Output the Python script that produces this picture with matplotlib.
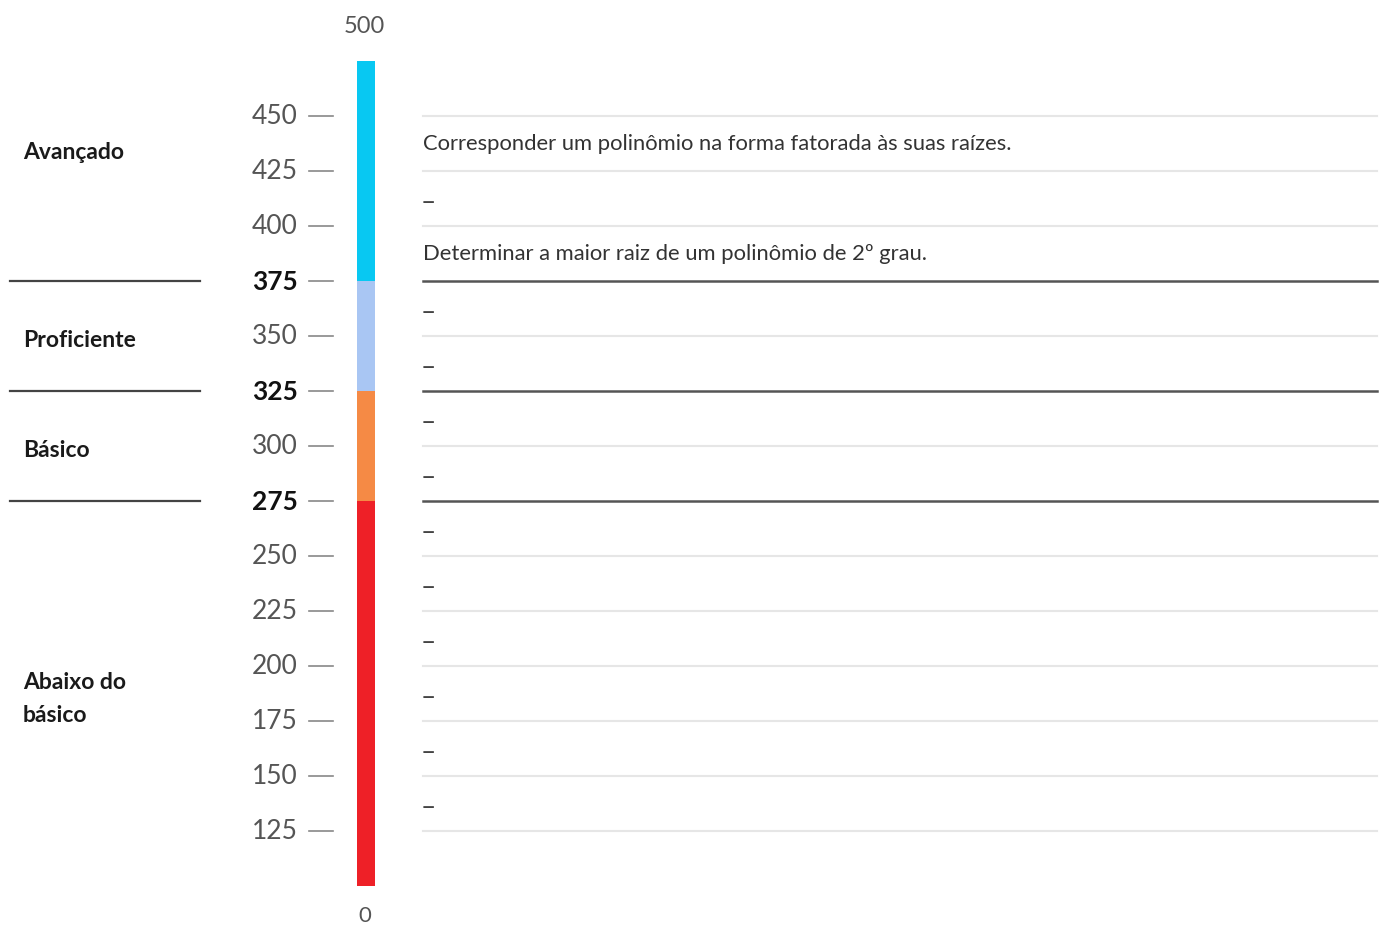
import matplotlib.pyplot as plt

# Escala de proficiência
level_names = ["Abaixo do\nbásico", "Básico", "Proficiente", "Avançado"]
level_bottoms = [100, 275, 325, 375]
level_tops = [275, 325, 375, 475]
level_colors = ["#ee2027", "#f58a45", "#a9c6f3", "#08c8f2"]
cut_points = [275, 325, 375]

tick_values = [450, 425, 400, 375, 350, 325, 300, 275, 250, 225, 200, 175, 150, 125]
scale_top_label = "500"
scale_bottom_label = "0"

# Habilidades em cada faixa de 25 pontos (do topo para baixo)
band_centers = [437.5, 412.5, 387.5, 362.5, 337.5, 312.5, 287.5,
                262.5, 237.5, 212.5, 187.5, 162.5, 137.5]
band_texts = ["Corresponder um polinômio na forma fatorada às suas raízes.",
              "–",
              "Determinar a maior raiz de um polinômio de 2º grau.",
              "–", "–", "–", "–", "–", "–", "–", "–", "–", "–"]

plt.rcParams['font.family'] = ['Lato', 'DejaVu Sans']

fig = plt.figure(figsize=(13.83, 9.29), dpi=100)
ax = fig.add_axes([0, 0, 1, 1])
ax.set_xlim(0, 1383)
ax.set_ylim(80.9, 503.17)
ax.axis('off')

# Barra colorida
for b, t, c in zip(level_bottoms, level_tops, level_colors):
    ax.bar(366, t - b, bottom=b, width=18, color=c, linewidth=0)

# Rótulos da escala e traços
for v in tick_values:
    bold = v in cut_points
    ax.text(298, v, str(v), ha='right', va='center', fontsize=19,
            color='#111111' if bold else '#555555',
            fontweight='bold' if bold else 'normal')
    ax.plot([309, 333], [v, v], color='#888888', lw=1.2)

ax.text(364, 491, scale_top_label, ha='center', va='center', fontsize=17, color='#555555')
ax.text(365, 86.6, scale_bottom_label, ha='center', va='center', fontsize=16, color='#555555')

# Linhas de grade da área de habilidades
for v in tick_values:
    if v in cut_points:
        ax.plot([423, 1377], [v, v], color='#555555', lw=1.8)
        ax.plot([10, 200], [v, v], color='#444444', lw=1.6)
    else:
        ax.plot([423, 1377], [v, v], color='#e6e6e6', lw=1.5)

# Nomes dos níveis
level_label_y = [185.5, 298.6, 348.6, 434]
for name, y in zip(level_names, level_label_y):
    ax.text(23, y, name, ha='left', va='center', fontsize=16.5, fontweight='bold',
            color='#1a1a1a', linespacing=1.75)

# Textos das habilidades
for y, txt in zip(band_centers, band_texts):
    if txt == "–":
        ax.text(421, y - 1.2, txt, ha='left', va='center', fontsize=19, color='#444444')
    else:
        ax.text(423, y, txt, ha='left', va='center', fontsize=15.8, color='#333333')

fig.savefig('out.png', dpi=100)
